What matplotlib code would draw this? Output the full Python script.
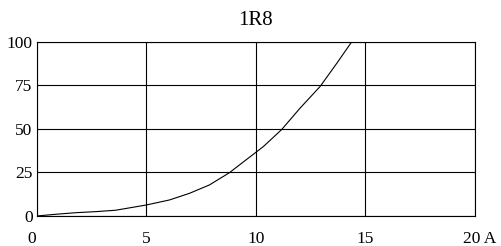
import matplotlib
matplotlib.use("Agg")
import matplotlib.pyplot as plt
import matplotlib.transforms as mtransforms

title = "1R8"
current_a = [0.0, 0.88, 1.8, 2.7, 3.6, 5.0, 6.06, 6.97, 7.88, 8.79, 9.74, 10.35, 11.18, 12.02, 12.94, 13.70, 14.38]
values = [0.0, 1.0, 1.9, 2.5, 3.3, 6.3, 9.2, 13.0, 17.8, 24.8, 34.0, 39.9, 49.6, 61.9, 74.4, 87.7, 100.0]
x_ticks = [0, 5, 10, 15, 20]
x_tick_labels = ["0", "5", "10", "15", "20 A"]
y_ticks = [0, 25, 50, 75, 100]
y_tick_labels = ["0", "25", "50", "75", "100"]

plt.rcParams['font.family'] = ['Liberation Serif', 'DejaVu Serif']

fig = plt.figure(figsize=(5.01, 2.46), dpi=100)
ax = fig.add_axes([0.0733, 0.122, 0.8747, 0.7085])
ax.plot(current_a, values, color='black', linewidth=0.8)
ax.set_xlim(0, 20)
ax.set_ylim(0, 100)
ax.set_xticks(x_ticks)
ax.set_xticklabels(x_tick_labels, fontsize=12.5)
ax.set_yticks(y_ticks)
ax.set_yticklabels(y_tick_labels, fontsize=12.5)
ax.tick_params(length=0, pad=3)
ax.tick_params(axis='x', pad=11)
ax.grid(True, color='black', linewidth=0.8)
for s in ax.spines.values():
    s.set_linewidth(0.8)
ax.set_axisbelow(True)
last = ax.get_xticklabels()[-1]
last.set_transform(last.get_transform() + mtransforms.ScaledTranslation(5 / 100, 0, fig.dpi_scale_trans))
first = ax.get_xticklabels()[0]
first.set_transform(first.get_transform() + mtransforms.ScaledTranslation(-5 / 100, 0, fig.dpi_scale_trans))
ax.set_title(title, fontsize=15, pad=12)
fig.savefig("out.png", dpi=100)
